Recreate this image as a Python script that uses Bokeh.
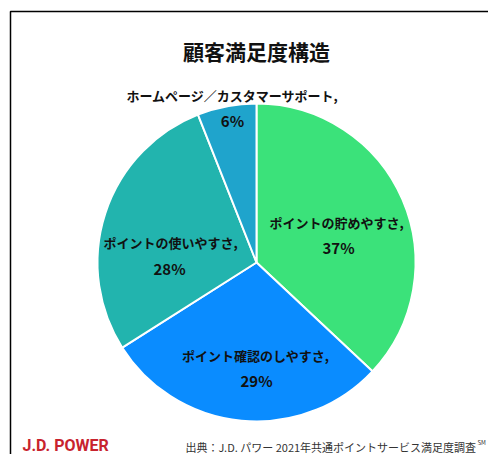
import math
from bokeh.plotting import figure
from bokeh.models import Range1d, ColumnDataSource
from bokeh.core.properties import value
from bokeh.embed import file_html
from bokeh.resources import INLINE

title = "顧客満足度構造"
categories = ["ポイントの貯めやすさ", "ポイント確認のしやすさ", "ポイントの使いやすさ", "ホームページ／カスタマーサポート"]
shares = [37, 29, 28, 6]
colors = ["#3BE27A", "#0A8CFF", "#22B4AE", "#1FA4CC"]
source_text = "出典：J.D. パワー 2021年共通ポイントサービス満足度調査"
brand = "J.D. POWER"

W, H = 488, 454
p = figure(width=W, height=H, output_backend="svg", toolbar_location=None,
           x_range=Range1d(0, W), y_range=Range1d(0, H),
           min_border=0, outline_line_color=None)
p.axis.visible = False
p.grid.visible = False
p.background_fill_color = "white"
p.border_fill_color = "white"

# frame
p.line([10, 10, W], [0, H - 11, H - 11], line_color="black", line_width=1.5)

cx, cy, r = 256, 192, 159
total = sum(shares)
starts, ends = [], []
a = math.pi / 2
for s in shares:
    starts.append(a)
    a -= 2 * math.pi * s / total
    ends.append(a)
src = ColumnDataSource(dict(start=starts, end=ends, color=colors))
p.wedge(x=cx, y=cy, radius=r, start_angle="start", end_angle="end",
        direction="clock", fill_color="color", line_color="white",
        line_width=2, source=src)

p.text(x=[cx], y=[404], text=[title], text_font=value("Noto Sans CJK JP"),
       text_font_style="bold", text_font_size="21px", text_color="#111111",
       text_align="center", text_baseline="middle")

# label positions (name line, pct line)
name_pos = [(336, 232), (255, 99), (170, 212), (232, 359)]
pct_pos = [(338, 207), (256, 74), (169, 186), (232, 334)]
names = [c + "," for c in categories]
pcts = [f"{s}%" for s in shares]
p.text(x=[q[0] for q in name_pos], y=[q[1] for q in name_pos], text=names,
       text_font=value("Noto Sans CJK JP"), text_font_style="bold",
       text_font_size="13px", text_color="#111111",
       text_align="center", text_baseline="middle")
p.text(x=[q[0] for q in pct_pos], y=[q[1] for q in pct_pos], text=pcts,
       text_font=value("Noto Sans CJK JP"), text_font_style="bold",
       text_font_size="15px", text_color="#111111",
       text_align="center", text_baseline="middle")

p.text(x=[22], y=[9], text=[brand], text_font=value("Roboto"),
       text_font_style="bold", text_font_size="16px", text_color="#C8232E",
       text_align="left", text_baseline="middle")
p.text(x=[185], y=[8], text=[source_text], text_font=value("Noto Sans CJK JP"),
       text_font_size="11px", text_color="#333333",
       text_align="left", text_baseline="middle")
p.text(x=[477], y=[12], text=["SM"], text_font=value("Noto Sans CJK JP"),
       text_font_size="6px", text_color="#333333",
       text_align="left", text_baseline="middle")

open("out.html", "w").write(file_html(p, INLINE))
